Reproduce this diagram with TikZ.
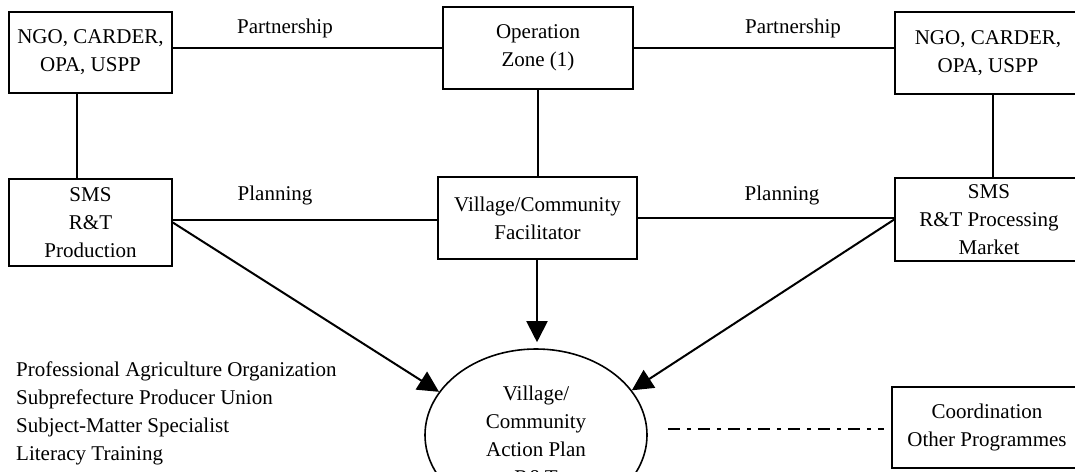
\documentclass[tikz,border=0pt]{standalone}
\usepackage{fontspec}
\setmainfont{Liberation Serif}
\usetikzlibrary{arrows.meta,shapes.geometric,calc}
\begin{document}
\begin{tikzpicture}[x=1pt,y=-1pt,
  every node/.style={font=\fontsize{21pt}{28pt}\selectfont, inner sep=0pt},
  box/.style={draw, line width=1.6pt, align=center},
  conn/.style={line width=2pt},
  arr/.style={conn, -{Triangle[length=21pt,width=21pt]}},
  lbl/.style={anchor=base},
  dd/.style={line width=2.6pt, dash pattern=on 12pt off 7pt on 4pt off 7pt}]
\useasboundingbox (0,0) rectangle (1075,471);
\clip (0,0) rectangle (1075,471);

\node[box, minimum width=163pt, minimum height=81pt] (ngoL) at (90.5,52.5) {NGO, CARDER,\\OPA, USPP};
\node[box, minimum width=190pt, minimum height=82pt] (op) at (538,48) {Operation\\Zone (1)};
\node[box, minimum width=186pt, minimum height=82pt] (ngoR) at (988,53) {NGO, CARDER,\\OPA, USPP};
\node[box, minimum width=163pt, minimum height=87pt] (smsL) at (90.5,222.5) {SMS\\R\&T\\Production};
\node[box, minimum width=199pt, minimum height=82pt] (vcf) at (537.5,218) {Village/Community\\Facilitator};
\node[box, minimum width=188pt, minimum height=83pt] (smsR) at (989,219.5) {SMS\\R\&T Processing\\Market};
\node[box, minimum width=190pt, minimum height=81pt] (coord) at (987,427.5) {Coordination\\Other Programmes};
\node[draw, ellipse, line width=1.6pt, minimum width=222pt, minimum height=172pt, align=center] (ell) at (536,435) {Village/\\Community\\Action Plan\\R\&T};

\node[lbl] (pL) at (285,33) {Partnership};
\node[lbl] (pR) at (793,33) {Partnership};
\node[lbl] (plL) at (275,200.5) {Planning};
\node[lbl] (plR) at (782,200) {Planning};
\node[anchor=north west, align=left] (legend) at (16,361.5) {Professional Agriculture Organization\\Subprefecture Producer Union\\Subject-Matter Specialist\\Literacy Training};

\draw[conn] (op.west) -- (op.west -| ngoL.east);
\draw[conn] (op.east) -- (op.east -| ngoR.west);
\draw[conn] ([xshift=-13.5pt]ngoL.south) -- ([xshift=-13.5pt]smsL.north);
\coordinate (rv) at ($(ngoR.south)+(5,0)$);
\draw[conn] (rv) -- (rv |- smsR.north);
\draw[conn] (op.south) -- (op.south |- vcf.north);
\draw[conn] ($(vcf.west)+(0,2)$) -- ($(vcf.west -| smsL.east)+(0,2)$);
\draw[conn] (vcf.east) -- (vcf.east -| smsR.west);
\draw[arr] (smsL.east) -- (ell.156);
\draw[arr] (smsR.west) -- (ell.25);
\coordinate (cv) at ($(vcf.south)+(-0.5,0)$);
\draw[arr] (cv) -- ($(cv |- ell.north)+(0,-6)$);
\draw[dd] ($(coord.west -| ell.east)+(20,1.5)$) -- ($(coord.west)+(-7,1.5)$);
\end{tikzpicture}
\end{document}
